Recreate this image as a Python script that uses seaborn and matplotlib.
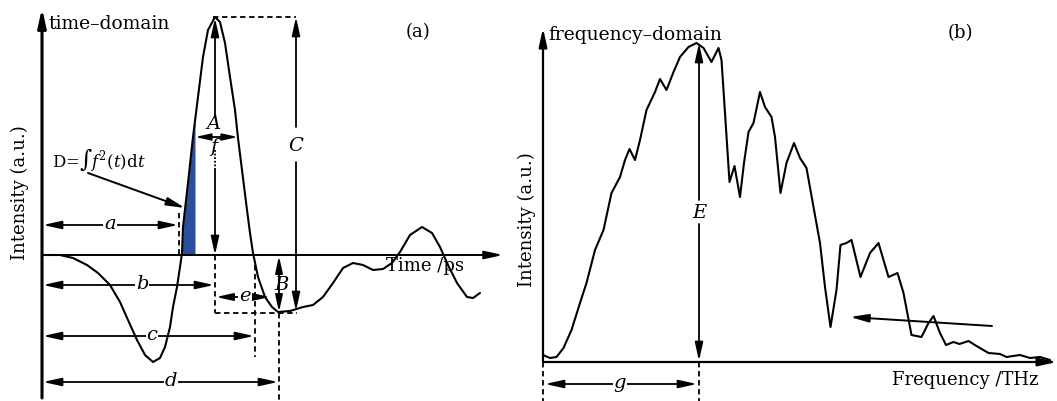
import numpy as np
import matplotlib
matplotlib.use("Agg")
import matplotlib.pyplot as plt
import seaborn as sns

# ---------------- data ----------------
# (a) time-domain THz waveform: time (ps) and intensity (a.u.)
time_ps = [0, 0.9, 1.55, 2.25, 2.8, 3.4, 3.9, 4.3, 4.75, 5.15, 5.55, 5.9, 6.15,
           6.4, 6.55, 6.75, 6.9, 7.0, 7.05, 7.3, 7.55, 7.8, 8.05, 8.3, 8.65,
           8.9, 9.15, 9.4, 9.65, 9.8, 10.0, 10.25, 10.4, 10.55, 10.8, 11.15,
           11.5, 11.8, 12.4, 13.05, 13.55, 14.05, 14.55, 15.05, 15.55, 16.05,
           16.55, 17.05, 17.5, 17.9, 18.4, 19.0, 19.5, 19.9, 20.3, 20.75, 21.25,
           21.55, 21.9]
time_int = [0, 0, -3, -10, -18, -30, -47, -65, -85, -100, -107, -103, -92,
            -72, -52, -32, -12, 2, 28, 72, 118, 158, 198, 225, 238,
            233, 212, 178, 145, 117, 85, 45, 22, 2, -22, -42,
            -52, -57, -56, -52, -50, -42, -28, -13, -8, -10,
            -15, -14, -8, 3, 20, 28, 22, 8, -10, -28, -42,
            -43, -38]

# (b) frequency-domain spectrum: frequency (THz) and intensity (a.u.)
freq_thz = [0.0, 0.14, 0.27, 0.41, 0.57, 0.74, 0.87, 1.04, 1.21, 1.37, 1.54, 1.64,
            1.73, 1.84, 1.94, 2.07, 2.24, 2.34, 2.47, 2.61, 2.74, 2.91, 3.07, 3.21,
            3.37, 3.51, 3.57, 3.64, 3.73, 3.83, 3.94, 4.02, 4.11, 4.21, 4.34, 4.44,
            4.57, 4.64, 4.75, 4.87, 5.02, 5.14, 5.27, 5.41, 5.54, 5.64, 5.75, 5.87,
            5.95, 6.07, 6.17, 6.35, 6.54, 6.71, 6.91, 7.09, 7.21, 7.37, 7.57, 7.71,
            7.81, 7.94, 8.06, 8.21, 8.33, 8.51, 8.67, 8.91, 9.14, 9.27, 9.54, 9.74,
            9.94, 10.14]
freq_int = [7, 4, 5, 14, 32, 59, 79, 112, 132, 169, 185, 202,
            213, 202, 222, 252, 270, 283, 272, 290, 305, 315, 319, 314,
            300, 314, 302, 249, 180, 196, 165, 199, 230, 239, 270, 255,
            245, 225, 169, 199, 219, 204, 194, 155, 119, 75, 35, 72,
            117, 119, 122, 85, 109, 119, 85, 89, 69, 27, 25, 39,
            46, 29, 17, 20, 18, 21, 16, 9, 8, 5, 7, 4,
            5, 2]

# ---------------- style ----------------
sns.set_theme(style="white")
plt.rcParams["font.family"] = ["DejaVu Serif"]
plt.rcParams["mathtext.fontset"] = "dejavuserif"
plt.rcParams["text.color"] = "black"
plt.rcParams["lines.solid_joinstyle"] = "round"

W, H = 1057, 401
fig = plt.figure(figsize=(W / 100, H / 100), dpi=100)
axA = fig.add_axes([0, 0, 515 / W, 1])
axB = fig.add_axes([515 / W, 0, (W - 515) / W, 1])
for ax in (axA, axB):
    ax.set_axis_off()
axA.set_xlim(-42 / 20, (515 - 42) / 20)
axA.set_ylim(255 - 401, 255)
axB.set_xlim(-28 / 50, (W - 543) / 50)
axB.set_ylim(362 - 401, 362)


def pa(x, y):
    return ((x - 42) / 20, 255 - y)


def pb(x, y):
    return ((x - 543) / 50, 362 - y)


HEAD = "-|>,head_length=1.0,head_width=0.22"
DHEAD = "<|-|>,head_length=1.0,head_width=0.22"


def arrow(ax, p0, p1, style=HEAD, lw=1.3, ms=11, z=3):
    ax.annotate("", xy=p1, xytext=p0, annotation_clip=False, zorder=z,
                arrowprops=dict(arrowstyle=style, color="black", lw=lw,
                                shrinkA=0, shrinkB=0, mutation_scale=ms))


def line(ax, p0, p1, ls="-", lw=1.3, z=3):
    ax.plot([p0[0], p1[0]], [p0[1], p1[1]], color="black", ls=ls, lw=lw,
            zorder=z, clip_on=False)


def label(ax, p, s, size=14, italic=True, bg=True):
    ax.text(p[0], p[1], s, ha="center", va="center", fontsize=size, color="black",
            style="italic" if italic else "normal", zorder=4,
            bbox=dict(fc="white", ec="none", pad=0.5) if bg else None)


DASH = (0, (3, 2))

# ---------------- panel (a) ----------------
sns.lineplot(x=time_ps, y=time_int, ax=axA, color="black", lw=1.5,
             sort=False, estimator=None, zorder=5, solid_joinstyle="round")
t_fill = np.linspace(pa(181, 0)[0], pa(195, 0)[0], 30)
axA.fill_between(t_fill, 0, np.clip(np.interp(t_fill, time_ps, time_int), 0, None),
                 color="#2C4E9E", lw=0, zorder=2)

arrow(axA, pa(42, 398), pa(42, 8), lw=2.2)
arrow(axA, pa(42, 255), pa(503, 255), lw=1.4)
axA.text(*pa(48, 24), "time–domain", fontsize=13.5, ha="left", va="center")
axA.text(*pa(418, 32), "(a)", fontsize=13, ha="center", va="center")
axA.text(*pa(425, 266), "Time /ps", fontsize=13, ha="center", va="center", zorder=4)
axA.text(*pa(20, 193), "Intensity (a.u.)", fontsize=13, rotation=90,
         ha="center", va="center")

# A
arrow(axA, pa(215, 117), pa(215, 18))
label(axA, pa(214, 124), "A", bg=False)
line(axA, pa(215, 150), pa(215, 170), ls=(0, (1, 1)))
arrow(axA, pa(215, 170), pa(215, 255))
# f
arrow(axA, pa(195, 137), pa(238, 137), style=DHEAD, ms=9)
label(axA, pa(214, 147), "f", bg=False)
# C
line(axA, pa(213, 17), pa(296, 17), ls=DASH)
arrow(axA, pa(296, 127), pa(296, 17))
label(axA, pa(296, 146), "C", bg=False)
arrow(axA, pa(296, 162), pa(296, 311))
# dashed guides
line(axA, pa(215, 255), pa(215, 313), ls=DASH)
line(axA, pa(215, 313), pa(297, 313), ls=DASH)
line(axA, pa(179, 213), pa(179, 255), ls=DASH)
line(axA, pa(255, 265), pa(255, 357), ls=DASH)
line(axA, pa(279, 313), pa(279, 401), ls=DASH)
# B
arrow(axA, pa(279, 256), pa(279, 312), style=DHEAD, ms=10)
label(axA, pa(281, 285), "B", bg=False)
# a b c d e
arrow(axA, pa(43, 225), pa(178, 225), style=DHEAD)
label(axA, pa(110, 224), "a")
arrow(axA, pa(43, 285), pa(214, 285), style=DHEAD)
label(axA, pa(142, 284), "b")
arrow(axA, pa(43, 336), pa(254, 336), style=DHEAD)
label(axA, pa(152, 335), "c")
arrow(axA, pa(43, 382), pa(278, 382), style=DHEAD)
label(axA, pa(171, 381), "d")
arrow(axA, pa(216, 297), pa(270, 297), style=DHEAD, ms=10)
label(axA, pa(245, 296), "e")
# D
axA.text(*pa(52, 160), r"D=$\int f^{2}(t)\mathrm{d}t$", fontsize=12,
         ha="left", va="center")
arrow(axA, pa(88, 173), pa(185, 208), lw=1.4)

# ---------------- panel (b) ----------------
sns.lineplot(x=freq_thz, y=freq_int, ax=axB, color="black", lw=1.5,
             sort=False, estimator=None, zorder=5, solid_joinstyle="round")
arrow(axB, pb(543, 362), pb(543, 28), lw=1.6)
arrow(axB, pb(543, 362), pb(1057, 362), lw=1.6)
axB.text(*pb(548, 35), "frequency–domain", fontsize=13.5, ha="left", va="center")
axB.text(*pb(960, 33), "(b)", fontsize=13, ha="center", va="center")
axB.text(*pb(965, 380), "Frequency /THz", fontsize=13, ha="center", va="center")
axB.text(*pb(527, 220), "Intensity (a.u.)", fontsize=13, rotation=90,
         ha="center", va="center")
# E
arrow(axB, pb(699, 200), pb(699, 43))
label(axB, pb(699, 213), "E", bg=False)
arrow(axB, pb(699, 224), pb(699, 361))
line(axB, pb(543, 362), pb(543, 401), ls=DASH)
line(axB, pb(699, 362), pb(699, 401), ls=DASH)
# g
arrow(axB, pb(545, 384), pb(697, 384), style=DHEAD)
label(axB, pb(620, 383), "g")
# trend arrow
arrow(axB, pb(992, 326), pb(850, 317), lw=1.4)

fig.savefig("out.png", dpi=100)
